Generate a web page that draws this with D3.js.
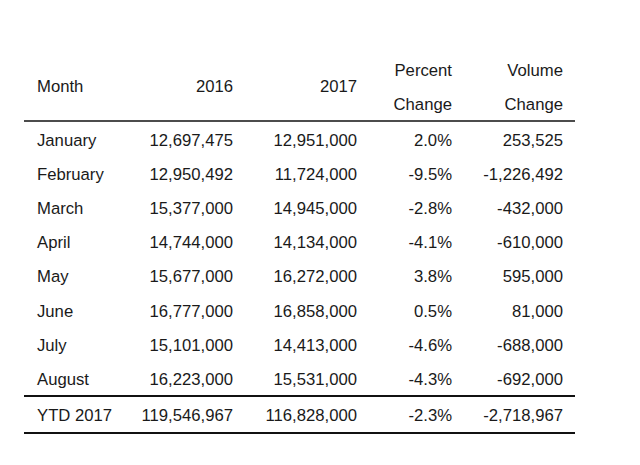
<!DOCTYPE html>
<html>
<head>
<meta charset="utf-8">
<script src="https://cdn.jsdelivr.net/npm/d3@7"></script>
<style>
    body { margin: 0; background: #fff; }
    text { font-family: "Liberation Sans", Arial, sans-serif; font-size: 16.7px; fill: #1a1a1a; }
</style>
</head>
<body>
<script>
const months = ['January', 'February', 'March', 'April', 'May', 'June', 'July', 'August'];
const values2016 = [12697475, 12950492, 15377000, 14744000, 15677000, 16777000, 15101000, 16223000];
const values2017 = [12951000, 11724000, 14945000, 14134000, 16272000, 16858000, 14413000, 15531000];
const percentChange = [2.0, -9.5, -2.8, -4.1, 3.8, 0.5, -4.6, -4.3];
const volumeChange = [253525, -1226492, -432000, -610000, 595000, 81000, -688000, -692000];
const totalLabel = 'YTD 2017';
const totals = [119546967, 116828000, -2.3, -2718967];
const headers = [['Month'], ['2016'], ['2017'], ['Percent', 'Change'], ['Volume', 'Change']];

const width = 640;
const height = 465;

const svg = d3.select('body')
    .append('svg')
    .attr('width', width)
    .attr('height', height);

// plain hyphen for negatives, like the source table
const fmt = d3.formatLocale({decimal: '.', thousands: ',', grouping: [3], currency: ['$', ''], minus: '-'});
const num = fmt.format(',');
const pct = v => v.toFixed(1) + '%';

const rows = months.map((m, i) => [m, num(values2016[i]), num(values2017[i]), pct(percentChange[i]), num(volumeChange[i])]);
const totalRow = [totalLabel, num(totals[0]), num(totals[1]), pct(totals[2]), num(totals[3])];

// column anchors: first is left aligned, the rest right aligned
const colX = [37, 233, 357, 452, 563];

const y = d3.scalePoint()
    .domain(months)
    .range([140, 379]);

const g = svg.append('g');

// header
headers.forEach((h, c) =>
{
    const lines = h.length === 1 ? [86] : [70, 104];
    h.forEach((t, k) =>
    {
        g.append('text')
            .attr('x', colX[c])
            .attr('y', lines[k])
            .attr('dy', '0.35em')
            .attr('text-anchor', c === 0 ? 'start' : 'end')
            .text(t);
    });
});

// body rows
const rowG = g.selectAll('g.row')
    .data(rows)
    .enter()
    .append('g')
    .attr('class', 'row')
    .attr('transform', d => `translate(0,${y(d[0])})`);

rowG.selectAll('text')
    .data(d => d)
    .enter()
    .append('text')
    .attr('x', (d, c) => colX[c])
    .attr('dy', '0.35em')
    .attr('text-anchor', (d, c) => c === 0 ? 'start' : 'end')
    .text(d => d);

g.selectAll('text.total')
    .data(totalRow)
    .enter()
    .append('text')
    .attr('class', 'total')
    .attr('x', (d, c) => colX[c])
    .attr('y', 415)
    .attr('dy', '0.35em')
    .attr('text-anchor', (d, c) => c === 0 ? 'start' : 'end')
    .text(d => d);

// rules
[[121, 1.6], [396, 2.2], [433, 2.2]].forEach(([ly, w]) =>
{
    g.append('line')
        .attr('x1', 24)
        .attr('x2', 575)
        .attr('y1', ly)
        .attr('y2', ly)
        .attr('stroke', '#111')
        .attr('stroke-width', w);
});
</script>
</body>
</html>
